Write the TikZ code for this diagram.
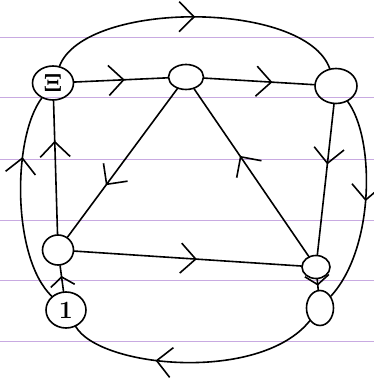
\documentclass[tikz,border=0pt]{standalone}
\usetikzlibrary{arrows.meta,decorations.markings,shapes.geometric}
\definecolor{ruling}{RGB}{200,170,225}
\tikzset{
  vert/.style={draw, ellipse, line width=1.6pt, inner sep=0pt},
  pen/.style={line width=1.6pt},
  paper/.style={ruling, line width=0.8pt},
  midarrow/.style={postaction={decorate}, decoration={markings,
    mark=at position #1 with {\arrow[line width=1.6pt]{Straight Barb[length=15pt,width=30pt]}}}},
  midarrow/.default=0.5,
  tinyarrow/.style={postaction={decorate}, decoration={markings,
    mark=at position 0.6 with {\arrow[line width=1.6pt]{Straight Barb[length=9pt,width=24pt]}}}},
}

\begin{document}
\begin{tikzpicture}[x=1pt, y=1pt, line cap=round, line join=round]
\useasboundingbox (0,0) rectangle (374,378);
\foreach \y in {37,98,158,219,281,341}
  \draw[paper] (0,\y) -- (374,\y);

\node[vert, minimum width=41pt, minimum height=34pt] (nw) at (53,295) {\Huge$\mathbf{\Xi}$};
\node[vert, minimum width=35pt, minimum height=25pt] (n) at (186,301) {};
\node[vert, minimum width=42pt, minimum height=35pt] (ne) at (336,292) {};
\node[vert, minimum width=31pt, minimum height=30pt] (w) at (58,128) {};
\node[vert, minimum width=28pt, minimum height=23pt] (e) at (316,111) {};
\node[vert, minimum width=40pt, minimum height=36pt] (sw) at (66,68) {\Huge\bfseries 1};
\node[vert, minimum width=27pt, minimum height=35pt] (se) at (320,70) {};

\draw[pen, midarrow=0.54] (nw) -- (n);
\draw[pen, midarrow=0.62] (n) -- (ne);
\draw[pen, midarrow] (nw) .. controls (85,378) and (305,378) .. (ne);
\draw[pen, midarrow=0.4] (ne) -- (e);
\draw[pen, midarrow] (ne) .. controls (375,240) and (375,130) .. (se);
\draw[pen, midarrow=0.65] (n) -- (w);
\draw[pen, midarrow=0.6] (e) -- (n);
\draw[pen, midarrow=0.54] (w) -- (e);
\draw[pen, midarrow=0.7] (w) -- (nw);
\draw[pen, tinyarrow] (sw) -- (w);
\draw[pen, midarrow=0.7] (sw) .. controls (12,120) and (12,240) .. (nw);
\draw[pen, midarrow=0.65] (se) .. controls (260,-5) and (100,10) .. (sw);
\draw[pen, tinyarrow] (e) -- (se);
\end{tikzpicture}
\end{document}
